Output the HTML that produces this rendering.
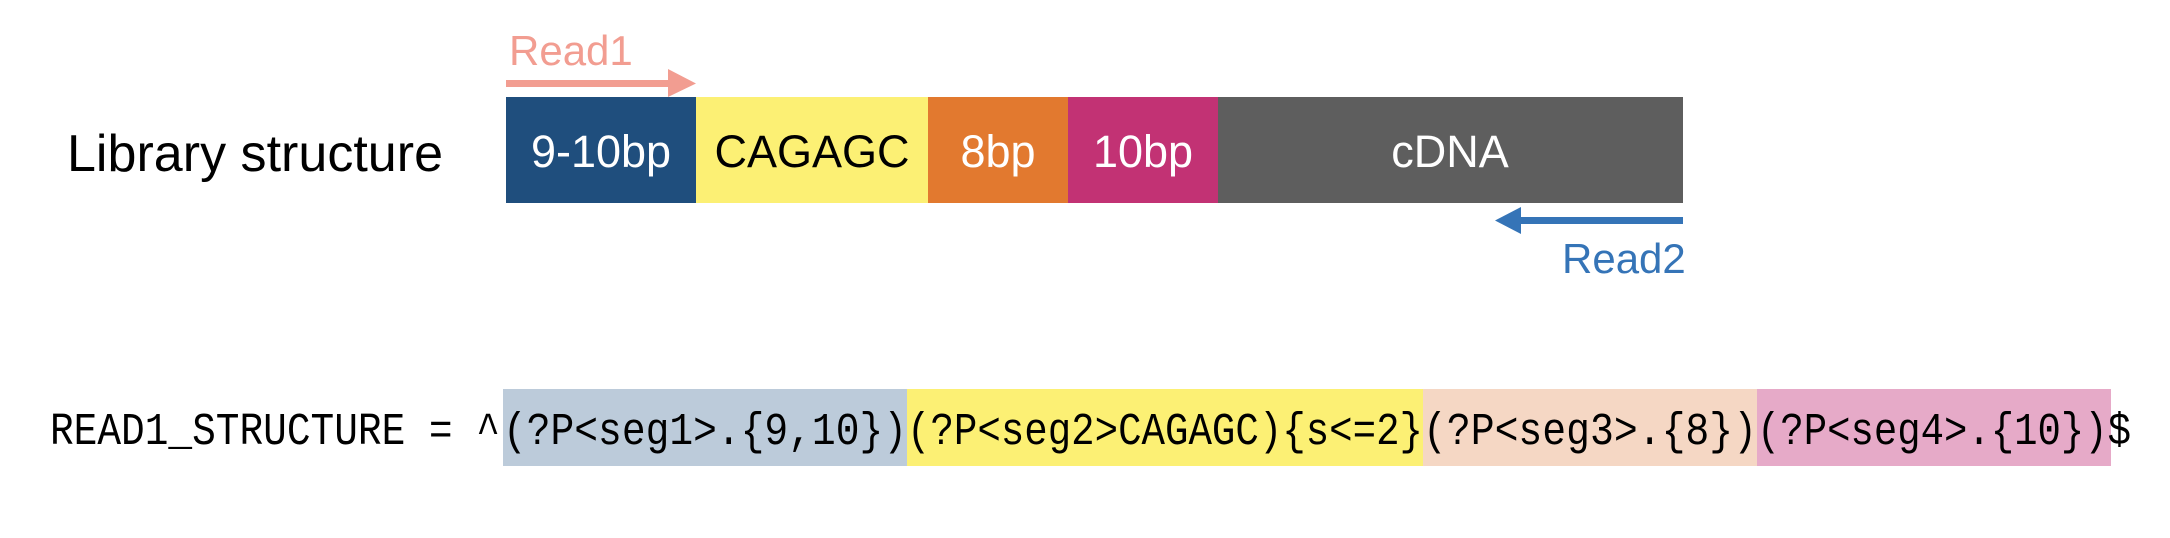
<!DOCTYPE html>
<html><head><meta charset="utf-8"><style>
html,body{margin:0;padding:0;background:#fff;}
svg{display:block;}
</style></head><body>
<svg width="2170" height="538" viewBox="0 0 2170 538" xmlns="http://www.w3.org/2000/svg">
<rect width="2170" height="538" fill="#fff"/>
<!-- Read1 -->
<text x="509" y="65" font-family="Liberation Sans, Arial, sans-serif" font-size="42" fill="#f29d91">Read1</text>
<rect x="506" y="80" width="166" height="7" fill="#f29d91"/>
<polygon points="668,69 696,83.5 668,97" fill="#f29d91"/>
<!-- Library structure -->
<text x="67" y="171" font-family="Liberation Sans, Arial, sans-serif" font-size="52" fill="#000" textLength="376">Library structure</text>
<!-- bar -->
<rect x="506" y="97" width="190" height="106" fill="#1f4e7d"/>
<rect x="696" y="97" width="232" height="106" fill="#fcf074"/>
<rect x="928" y="97" width="140" height="106" fill="#e2792f"/>
<rect x="1068" y="97" width="150" height="106" fill="#c23274"/>
<rect x="1218" y="97" width="465" height="106" fill="#5e5e5e"/>
<g font-family="Liberation Sans, Arial, sans-serif" font-size="45" text-anchor="middle">
<text x="601" y="167" fill="#fff">9-10bp</text>
<text x="812" y="167" fill="#000">CAGAGC</text>
<text x="998" y="167" fill="#fff">8bp</text>
<text x="1143" y="167" fill="#fff">10bp</text>
<text x="1450" y="167" fill="#fff">cDNA</text>
</g>
<!-- Read2 -->
<rect x="1518" y="217" width="165" height="7" fill="#3574b7"/>
<polygon points="1521,207 1495,220.5 1521,234" fill="#3574b7"/>
<text x="1562" y="273" font-family="Liberation Sans, Arial, sans-serif" font-size="42" fill="#3574b7">Read2</text>
<!-- code highlights -->
<rect x="503" y="389" width="404" height="77" fill="#bccbda"/>
<rect x="907" y="389" width="516" height="77" fill="#fcf074"/>
<rect x="1423" y="389" width="334" height="77" fill="#f5d7c4"/>
<rect x="1757" y="389" width="354" height="77" fill="#e6aac8"/>
<g font-family="Liberation Mono, DejaVu Sans Mono, monospace" font-size="40" fill="#000" transform="translate(0,444) scale(1,1.13) translate(0,-444)">
<text x="50" y="444" textLength="450" lengthAdjust="spacingAndGlyphs">READ1_STRUCTURE = ^</text>
<text x="503" y="444" textLength="404" lengthAdjust="spacingAndGlyphs">(?P&lt;seg1&gt;.{9,10})</text>
<text x="907" y="444" textLength="516" lengthAdjust="spacingAndGlyphs">(?P&lt;seg2&gt;CAGAGC){s&lt;=2}</text>
<text x="1423" y="444" textLength="334" lengthAdjust="spacingAndGlyphs">(?P&lt;seg3&gt;.{8})</text>
<text x="1757" y="444" textLength="374" lengthAdjust="spacingAndGlyphs">(?P&lt;seg4&gt;.{10})$</text>
</g>
</svg>
</body></html>
